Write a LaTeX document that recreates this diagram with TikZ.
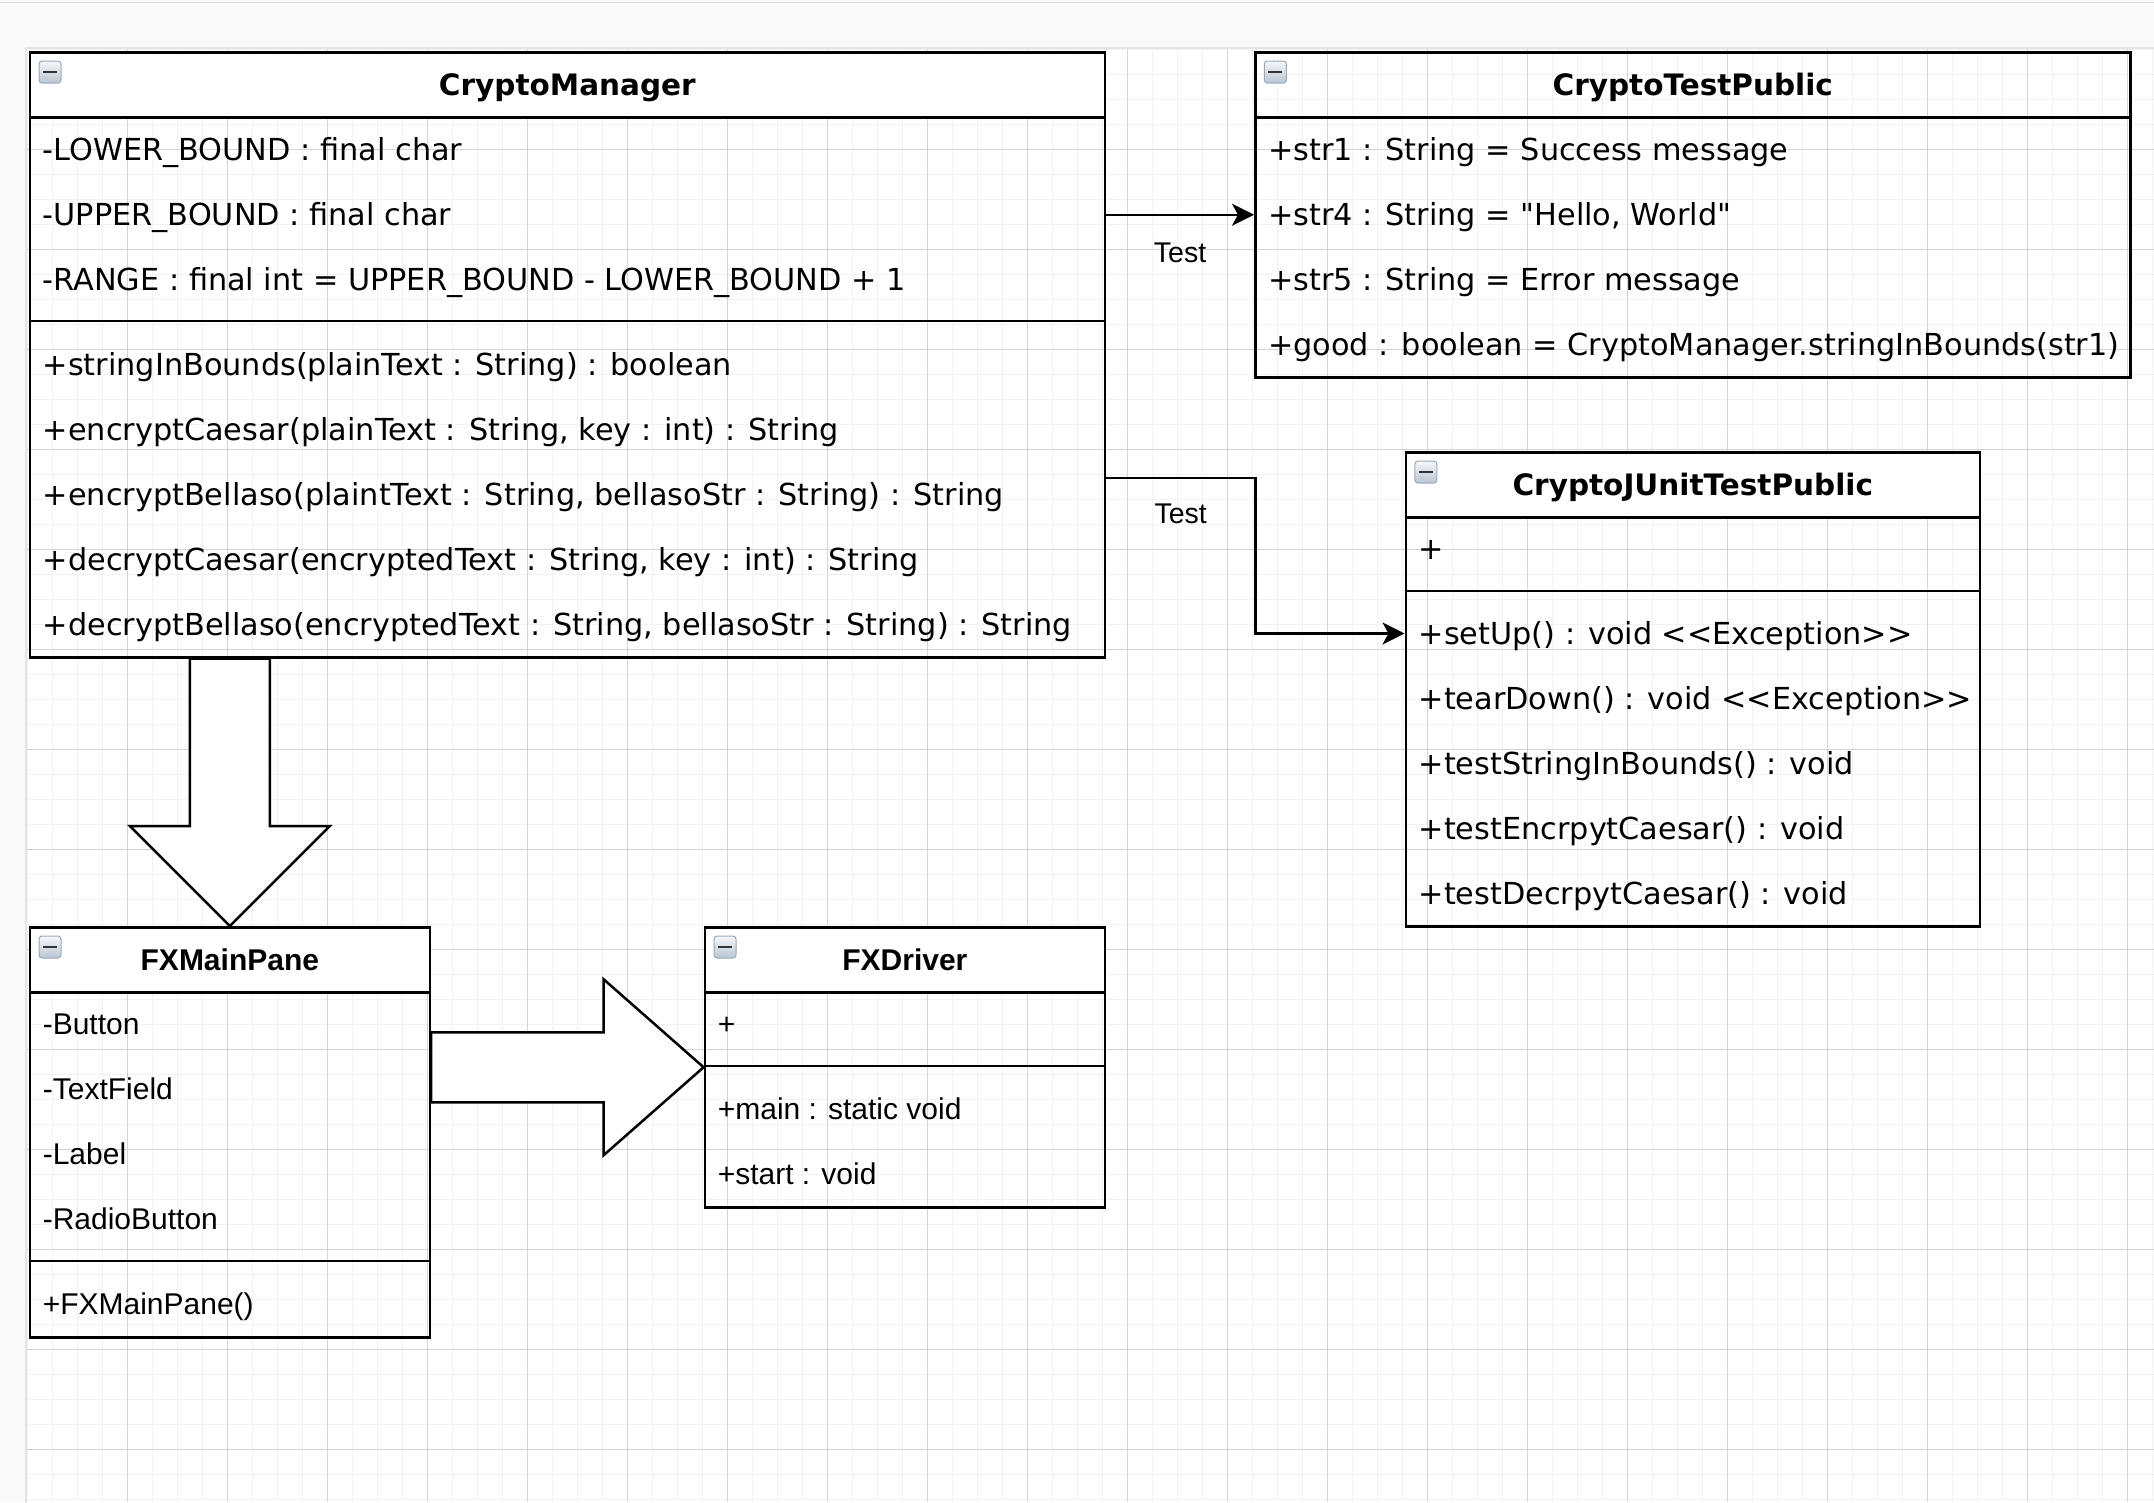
\documentclass[tikz,border=0pt]{standalone}
\usepackage{fontspec}
\setmainfont{DejaVu Sans}
\newfontfamily\arialfont{Liberation Sans}
\usetikzlibrary{positioning}
\usetikzlibrary{positioning, arrows.meta, calc}

\definecolor{pagegray}{HTML}{F8F9FA}
\definecolor{toprule}{HTML}{DADCE0}
\definecolor{gridminor}{HTML}{F2F2F2}
\definecolor{gridmajor}{HTML}{D4D4D4}
\definecolor{iconedge}{HTML}{9AA9B8}
\definecolor{icontop}{HTML}{F6F8FA}
\definecolor{iconbottom}{HTML}{B8C5D2}

\tikzset{
    minorline/.style={draw=gridminor, line width=1.3pt},
    majorline/.style={draw=gridmajor, line width=1pt},
    classbox/.style={draw=black, line width=2.5pt, anchor=north west, inner sep=0pt},
    headbox/.style={draw=black, fill=white, line width=2.5pt, anchor=north west, inner sep=0pt,
        minimum height=65pt, text height=22pt, text depth=0pt,
        font=\bfseries\fontsize{29.5}{36}\selectfont},
    fxhead/.style={headbox, font=\arialfont\bfseries\fontsize{30}{36}\selectfont},
    rowsep/.style={draw=black, line width=2.5pt},
    member/.style={anchor=base west, inner sep=0pt, font=\fontsize{30.3}{36}\selectfont},
    fxmember/.style={anchor=base west, inner sep=0pt, font=\arialfont\fontsize{30}{36}\selectfont},
    minusicon/.style={draw=iconedge, line width=1pt, rounded corners=3pt, minimum size=22pt,
        inner sep=0pt, top color=icontop, bottom color=iconbottom,
        path picture={\draw[line width=2.6pt, draw=black!80]
            ([xshift=-7pt]path picture bounding box.center) -- ([xshift=7pt]path picture bounding box.center);}},
    testarrow/.style={draw=black, line width=2.5pt, -{Stealth[length=22pt, width=22pt, inset=6pt]}},
    testlabel/.style={inner sep=0pt, font=\arialfont\fontsize{28.5}{34}\selectfont},
    blockarrow/.style={draw=black, fill=white, line width=2.5pt, line join=miter}
}

\begin{document}
\begin{tikzpicture}[x=1pt, y=-1pt]
    % page and canvas
    \fill[pagegray] (0,0) rectangle (2154,1502);
    \useasboundingbox (0,0) rectangle (2154,1502);
    \draw[toprule, line width=1.5pt] (0,2.7) -- (2154,2.7);
    \draw[draw=black!10, line width=2pt, fill=white] (2160,48) -- (26,48) -- (26,1510);
    \fill[white] (27,49) rectangle (2154,1502);

    % grid
    \foreach \i in {0,...,85}
        \draw[minorline] (27.3+25*\i,49) -- (27.3+25*\i,1502);
    \foreach \j in {0,...,58}
        \draw[minorline] (27,49.3+25*\j) -- (2154,49.3+25*\j);
    \foreach \i in {1,...,21}
        \draw[majorline] (27.3+100*\i,49) -- (27.3+100*\i,1502);
    \foreach \j in {1,...,14}
        \draw[majorline] (27,49.3+100*\j) -- (2154,49.3+100*\j);

    % CryptoManager
    \node[classbox, minimum width=1075pt, minimum height=605pt] (manager) at (28.6,51) {};
    \node[headbox, minimum width=1075pt] (managerhead) at (manager.north west) {CryptoManager};
    \node[minusicon] (managericon) at ([shift={(21.4,21)}]manager.north west) {};
    \foreach \txt [count=\i] in {{-LOWER\_BOUND : final char},
                                 {-UPPER\_BOUND : final char},
                                 {-RANGE : final int = UPPER\_BOUND - LOWER\_BOUND + 1}}
        \node[member] (manager-a\i) at ([shift={(14,44.5+65*\i)}]manager.north west) {\txt};
    \draw[rowsep] ([yshift=-270pt]manager.north west) -- ([yshift=-270pt]manager.north east);
    \foreach \txt [count=\i] in {{+stringInBounds(plainText : String) : boolean},
                                 {+encryptCaesar(plainText : String, key : int) : String},
                                 {+encryptBellaso(plaintText : String, bellasoStr : String) : String},
                                 {+decryptCaesar(encryptedText : String, key : int) : String},
                                 {+decryptBellaso(encryptedText : String, bellasoStr : String) : String}}
        \node[member] (manager-m\i) at ([shift={(14,259+65*\i)}]manager.north west) {\txt};

    % CryptoTestPublic
    \node[classbox, minimum width=875pt, minimum height=325pt] (testpublic) at (1254,51) {};
    \node[headbox, fill=none, minimum width=875pt] (testpublichead) at (testpublic.north west) {CryptoTestPublic};
    \node[minusicon] (testpublicicon) at ([shift={(21.4,21)}]testpublic.north west) {};
    \foreach \txt [count=\i] in {{+str1 : String = Success message},
                                 {+str4 : String = \textquotedbl Hello, World\textquotedbl},
                                 {+str5 : String = Error message},
                                 {+good : boolean = CryptoManager.stringInBounds(str1)}}
        \node[member] (testpublic-a\i) at ([shift={(14,44.5+65*\i)}]testpublic.north west) {\txt};

    % CryptoJUnitTestPublic
    \node[classbox, minimum width=574pt, minimum height=474pt] (junit) at (1404.5,451) {};
    \node[headbox, minimum width=574pt] (junithead) at (junit.north west) {CryptoJUnitTestPublic};
    \node[minusicon] (juniticon) at ([shift={(21.4,21)}]junit.north west) {};
    \node[member] (junit-a1) at ([shift={(14,108.5)}]junit.north west) {+};
    \draw[rowsep] ([yshift=-140pt]junit.north west) -- ([yshift=-140pt]junit.north east);
    \foreach \txt [count=\i] in {{+setUp() : void <{}<Exception>{}>},
                                 {+tearDown() : void <{}<Exception>{}>},
                                 {+testStringInBounds() : void},
                                 {+testEncrpytCaesar() : void},
                                 {+testDecrpytCaesar() : void}}
        \node[member] (junit-m\i) at ([shift={(14,128.5+65*\i)}]junit.north west) {\txt};

    % FXMainPane
    \node[classbox, minimum width=400pt, minimum height=410pt] (mainpane) at (28.6,926) {};
    \node[fxhead, minimum width=400pt] (mainpanehead) at (mainpane.north west) {FXMainPane};
    \node[minusicon] (mainpaneicon) at ([shift={(21.4,21)}]mainpane.north west) {};
    \foreach \txt [count=\i] in {-Button, -TextField, -Label, -RadioButton}
        \node[fxmember] (mainpane-a\i) at ([shift={(14,43.5+65*\i)}]mainpane.north west) {\txt};
    \draw[rowsep] ([yshift=-335pt]mainpane.north west) -- ([yshift=-335pt]mainpane.north east);
    \node[fxmember] (mainpane-m1) at ([shift={(14,388.5)}]mainpane.north west) {+FXMainPane()};

    % FXDriver
    \node[classbox, minimum width=400pt, minimum height=280pt] (driver) at (703.6,926) {};
    \node[fxhead, minimum width=400pt] (driverhead) at (driver.north west) {FXDriver};
    \node[minusicon] (drivericon) at ([shift={(21.4,21)}]driver.north west) {};
    \node[fxmember] (driver-a1) at ([shift={(14,108.5)}]driver.north west) {+};
    \draw[rowsep] ([yshift=-140pt]driver.north west) -- ([yshift=-140pt]driver.north east);
    \foreach \txt [count=\i] in {{+main : static void}, {+start : void}}
        \node[fxmember] (driver-m\i) at ([shift={(14,128.5+65*\i)}]driver.north west) {\txt};

    % Test connectors
    \coordinate (srcA) at (manager.east |- testpublic.west);
    \draw[testarrow] (srcA) -- (testpublic.west);
    \node[testlabel] (testA) at ($(srcA)!.5!(testpublic.west)+(0,38.5)$) {Test};
    \coordinate (srcB) at ([yshift=-427pt]manager.north east);
    \coordinate (dstB) at (junit.west |- junit-m1.base);
    \coordinate (dstB) at ([yshift=11pt]dstB);
    \coordinate (bendB) at ($(srcB)!.5!(dstB)$);
    \draw[testarrow] (srcB) -| (bendB) |- (dstB);
    \node[testlabel] (testB) at ($(srcB)!.5!(srcB -| bendB)+(0,36)$) {Test};

    % block arrows
    \coordinate (downtop) at (mainpane.north |- manager.south);
    \draw[blockarrow] (mainpane.north) -- ([shift={(-100,-100)}]mainpane.north)
        -- ([shift={(-40,-100)}]mainpane.north) -- ([xshift=-40pt]downtop)
        -- ([xshift=40pt]downtop) -- ([shift={(40,-100)}]mainpane.north)
        -- ([shift={(100,-100)}]mainpane.north) -- cycle;
    \coordinate (righttail) at (mainpane.east |- driver.west);
    \draw[blockarrow] (driver.west) -- ([shift={(-100,-88)}]driver.west)
        -- ([shift={(-100,-35)}]driver.west) -- ([yshift=35pt]righttail)
        -- ([yshift=-35pt]righttail) -- ([shift={(-100,35)}]driver.west)
        -- ([shift={(-100,88)}]driver.west) -- cycle;
\end{tikzpicture}
\end{document}
